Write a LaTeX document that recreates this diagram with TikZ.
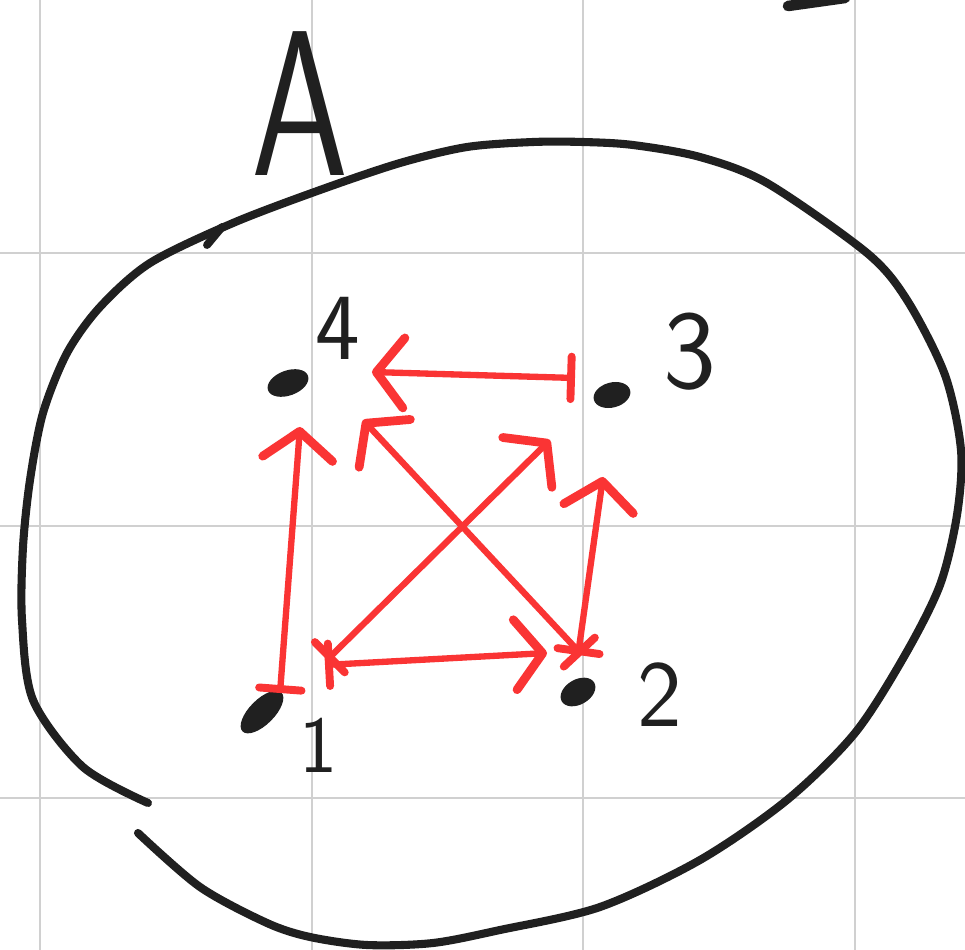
\documentclass[tikz,border=0pt]{standalone}
\usepackage{xcolor}
\definecolor{inkred}{RGB}{250, 52, 52}
\definecolor{inkblack}{RGB}{32, 32, 32}
\definecolor{gridgray}{RGB}{208, 208, 208}
\usetikzlibrary{arrows.meta, shapes.geometric}

\begin{document}
\begin{tikzpicture}[
    x=0.02cm, y=-0.02cm,
    dotnode/.style={ellipse, fill=inkblack, inner sep=0pt,
      minimum width=0.85cm, minimum height=0.5cm},
    numlabel/.style={text=inkblack, inner sep=0pt,
      font=\sffamily\fontsize{54}{60}\selectfont},
    relarrow/.style={draw=inkred, line width=3.6pt, line cap=round,
      {Bar[width=0.85cm, line width=4.5pt, round]}-{Straight Barb[length=0.55cm, width=1.4cm, line width=5pt, round]}}
  ]
    % paper and grid
    \fill[white] (0,0) rectangle (965,950);
    \useasboundingbox (0,0) rectangle (965,950);
    \foreach \gx in {40,312,583,855}
      \draw[gridgray, line width=1.4pt] (\gx,0) -- (\gx,950);
    \foreach \gy in {253,526,798}
      \draw[gridgray, line width=1.4pt] (0,\gy) -- (965,\gy);

    % the set A
    \draw[inkblack, line width=4.6pt, line cap=round]
      plot[smooth, tension=0.5] coordinates {
        (138,833) (200,887) (267,923) (310,937) (367,945) (433,943)
        (500,930) (600,907) (700,860) (787,800) (855,733) (905,655)
        (940,585) (957,515) (961,450) (945,375) (907,300)
        (867,253) (767,183) (700,157) (633,145) (583,142) (533,142)
        (467,147) (400,163) (320,190) (233,223) (150,263) (100,307)
        (67,353) (43,413) (30,480) (23,547) (22,620) (33,700) (83,767)
        (148,803)};
    \draw[inkblack, line width=4.5pt, line cap=round] (207,245) -- (222,227);
    \node[text=inkblack, inner sep=0pt, xscale=0.75,
      font=\sffamily\fontsize{118}{120}\selectfont] (nameA) at (300,104) {A};
    \draw[inkblack, line width=6pt, line cap=round] (788,6) -- (845,-2);

    % points
    \node[dotnode, rotate=20] (p4) at (288,383) {};
    \node[dotnode, rotate=15, minimum width=0.75cm] (p3) at (612,395) {};
    \node[dotnode, rotate=30, minimum width=0.75cm] (p2) at (578,692) {};
    \node[dotnode, rotate=45, minimum width=1.1cm] (p1) at (262,712) {};
    \node[numlabel] (l4) at (338,328) {4};
    \node[numlabel, font=\sffamily\fontsize{64}{70}\selectfont] (l3) at (690,352) {3};
    \node[numlabel] (l2) at (660,695) {2};
    \node[numlabel, font=\sffamily\fontsize{46}{50}\selectfont] (l1) at (318,745) {1};

    % relation
    \draw[relarrow] ([shift={(-37,-17)}]p3.center) -- ([shift={(84,-11)}]p4.center);
    \draw[relarrow] ([shift={(4,-37)}]p2.center) -- ([shift={(75,37)}]p4.center);
    \draw[relarrow] ([shift={(65,-52)}]p1.center) -- ([shift={(-62,45)}]p3.center);
    \draw[relarrow] ([shift={(63,-47)}]p1.center) -- ([shift={(-31,-39)}]p2.center);
    \draw[relarrow] ([shift={(0,-37)}]p2.center) -- ([shift={(-9,82)}]p3.center);
    \draw[relarrow] ([shift={(18,-19)}]p1.center) -- ([shift={(12,44)}]p4.center);
  \end{tikzpicture}
\end{document}
